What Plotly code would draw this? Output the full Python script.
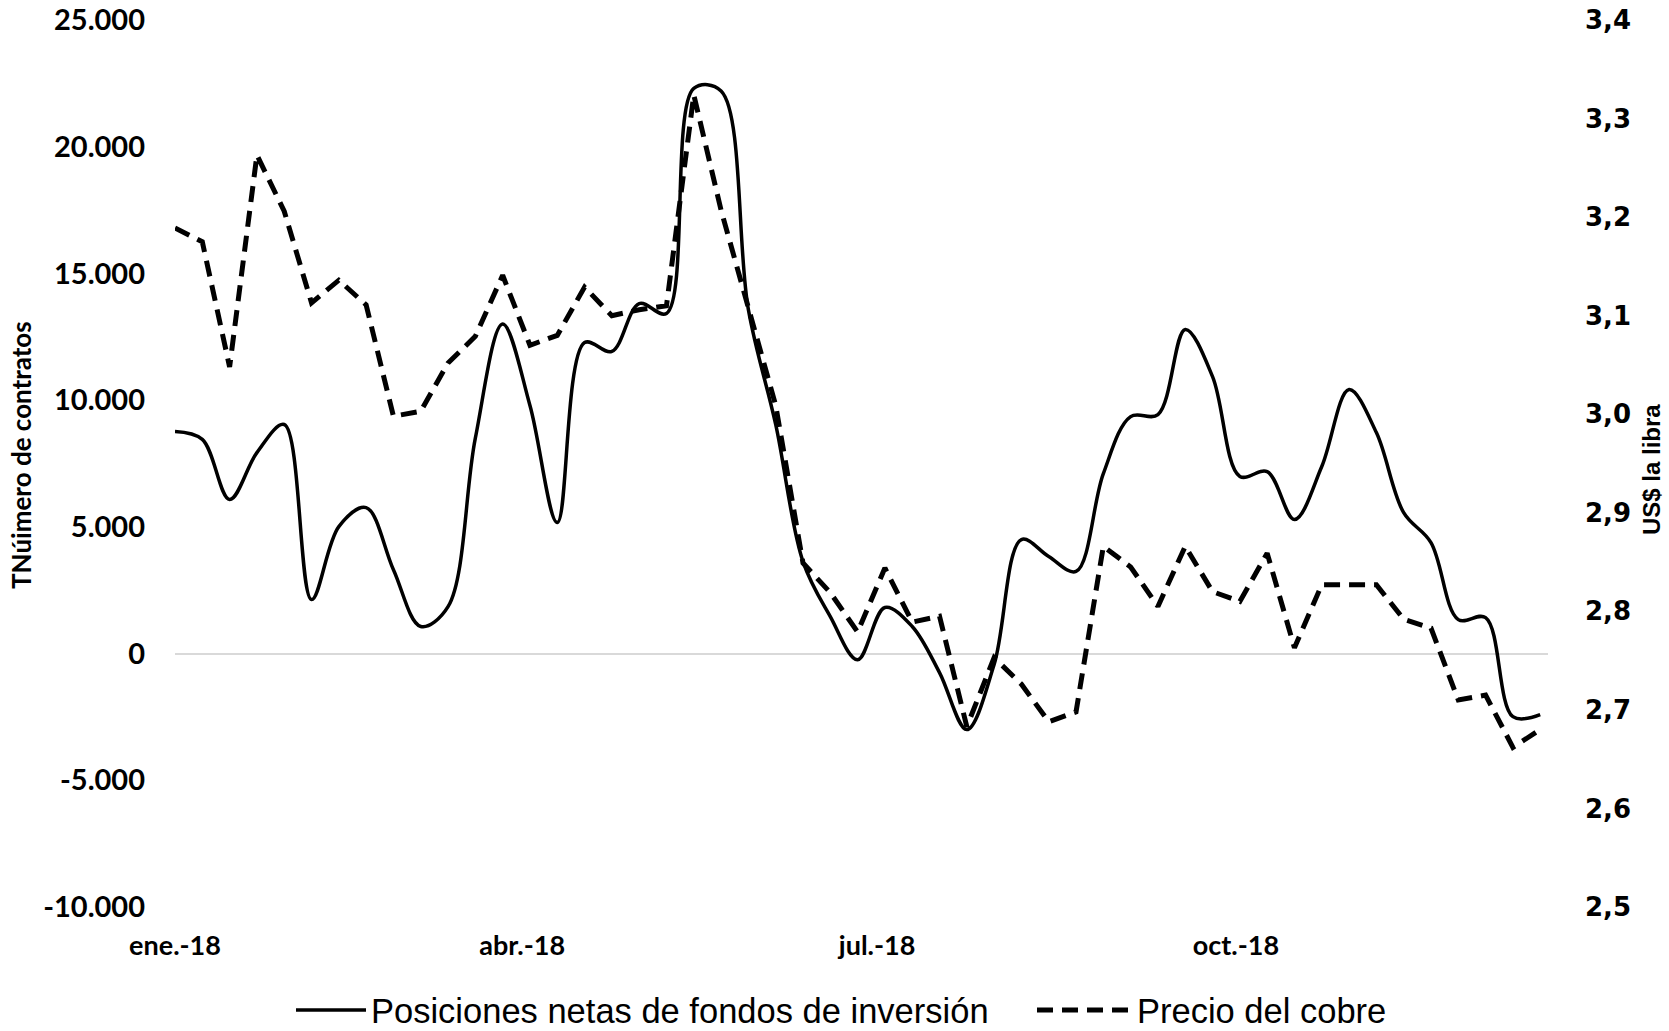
import plotly.graph_objects as go

fechas = [
    "2018-01-02", "2018-01-09", "2018-01-16", "2018-01-23", "2018-01-30",
    "2018-02-06", "2018-02-13", "2018-02-20", "2018-02-27",
    "2018-03-06", "2018-03-13", "2018-03-20", "2018-03-27",
    "2018-04-03", "2018-04-10", "2018-04-17", "2018-04-24",
    "2018-05-01", "2018-05-08", "2018-05-15", "2018-05-22", "2018-05-29",
    "2018-06-05", "2018-06-12", "2018-06-19", "2018-06-26",
    "2018-07-03", "2018-07-10", "2018-07-17", "2018-07-24", "2018-07-31",
    "2018-08-07", "2018-08-14", "2018-08-21", "2018-08-28",
    "2018-09-04", "2018-09-11", "2018-09-18", "2018-09-25",
    "2018-10-02", "2018-10-09", "2018-10-16", "2018-10-23", "2018-10-30",
    "2018-11-06", "2018-11-13", "2018-11-20", "2018-11-27",
    "2018-12-04", "2018-12-11", "2018-12-18",
]

posiciones_netas = [
    8760, 8450, 6080, 7930, 9040, 2130, 5010, 5760, 3310, 1070,
    1850, 8500, 13000, 9790, 5170, 12270, 11920, 13810, 13420, 22300,
    22200, 13570, 9040, 3630, 1460, -240, 1820, 1070, -750, -3000,
    -430, 4500, 3830, 3240, 7100, 9350, 9430, 12790, 10930, 6990,
    7180, 5290, 7380, 10420, 8720, 5560, 4380, 1340, 1420, -2490,
    -2410,
]

precio_cobre = [
    3.189, 3.175, 3.048, 3.263, 3.206, 3.113, 3.136, 3.111, 2.998, 3.003,
    3.052, 3.079, 3.141, 3.070, 3.080, 3.129, 3.100, 3.106, 3.110, 3.324,
    3.207, 3.106, 3.009, 2.849, 2.819, 2.779, 2.844, 2.789, 2.795, 2.683,
    2.753, 2.726, 2.688, 2.698, 2.866, 2.845, 2.805, 2.866, 2.820, 2.810,
    2.859, 2.763, 2.827, 2.827, 2.827, 2.792, 2.783, 2.710, 2.715, 2.662,
    2.680,
]

x_tick_fechas = ["2018-01-02", "2018-04-01", "2018-07-01", "2018-10-01"]
x_tick_texto = ["ene.-18", "abr.-18", "jul.-18", "oct.-18"]

y1_tick_vals = [-10000, -5000, 0, 5000, 10000, 15000, 20000, 25000]
y1_tick_texto = ["-10.000", "-5.000", "0", "5.000", "10.000", "15.000", "20.000", "25.000"]

y2_tick_vals = [2.5, 2.6, 2.7, 2.8, 2.9, 3.0, 3.1, 3.2, 3.3, 3.4]
y2_tick_texto = ["2,5", "2,6", "2,7", "2,8", "2,9", "3,0", "3,1", "3,2", "3,3", "3,4"]

nombre_serie1 = "Posiciones netas de fondos de inversión"
nombre_serie2 = "Precio del cobre"
titulo_y1 = "TNúimero de contratos"
titulo_y2 = "US$ la libra"

fig = go.Figure()
fig.add_trace(go.Scatter(
    x=fechas, y=posiciones_netas, name=nombre_serie1, mode="lines",
    line=dict(color="black", width=3.5, shape="spline", smoothing=1.0),
    yaxis="y", legend="legend",
))
fig.add_trace(go.Scatter(
    x=fechas, y=precio_cobre, name=nombre_serie2, mode="lines",
    line=dict(color="black", width=5, dash="16px,9px"),
    yaxis="y2", legend="legend2",
))

W, H = 1669, 1031
L, R, T, B = 175, 121, 20, 124
pw = W - L - R
ph = H - T - B

legend_font = dict(family="Liberation Sans", size=34.5, color="black")
legend_common = dict(
    orientation="h", xanchor="left",
    yref="container", y=(H - 1010) / H, yanchor="middle",
    font=legend_font, bgcolor="rgba(0,0,0,0)",
)

fig.update_layout(
    width=W, height=H,
    margin=dict(l=L, r=R, t=T, b=B, autoexpand=False),
    paper_bgcolor="white", plot_bgcolor="white",
    showlegend=True,
    legend=dict(x=(291 - L) / pw, itemwidth=70, **legend_common),
    legend2=dict(x=(1032 - L) / pw, itemwidth=95, **legend_common),
    xaxis=dict(
        type="date",
        range=["2018-01-02", "2018-12-20"],
        tickmode="array", tickvals=x_tick_fechas, ticktext=x_tick_texto,
        showgrid=False, zeroline=False, showline=False, ticks="",
        ticklabelstandoff=20, ticklabeloverflow="allow",
        tickfont=dict(family="Lato", size=27, color="black", weight="bold"),
    ),
    yaxis=dict(
        range=[-10000, 25000],
        tickmode="array", tickvals=y1_tick_vals, ticktext=y1_tick_texto,
        showgrid=False, zeroline=True, zerolinecolor="#d9d9d9", zerolinewidth=1.5,
        showline=False, ticks="", ticklabelstandoff=29, ticklabeloverflow="allow",
        tickfont=dict(family="Lato", size=29, color="black", weight="bold"),
    ),
    yaxis2=dict(
        range=[2.5, 3.4], overlaying="y", side="right",
        tickmode="array", tickvals=y2_tick_vals, ticktext=y2_tick_texto,
        showgrid=False, zeroline=False, showline=False, ticks="",
        ticklabelstandoff=36, ticklabeloverflow="allow",
        tickfont=dict(family="DejaVu Sans", size=26, color="black", weight="bold"),
    ),
    annotations=[
        dict(text=titulo_y1, xref="paper", yref="paper", x=(21 - L) / pw, y=(H - B - 455) / ph,
             textangle=-90, showarrow=False, xanchor="center", yanchor="middle",
             font=dict(family="Lato", size=26, color="black", weight="bold")),
        dict(text=titulo_y2, xref="paper", yref="paper", x=(1652 - L) / pw, y=(H - B - 470) / ph,
             textangle=-90, showarrow=False, xanchor="center", yanchor="middle",
             font=dict(family="Liberation Sans Narrow, Liberation Sans, sans-serif", size=24, color="black", weight="bold")),
    ],
)

fig.write_html(
    "out.html",
    config={"displayModeBar": False},
    post_script="document.body.style.margin='0';document.body.style.overflow='hidden';",
)
